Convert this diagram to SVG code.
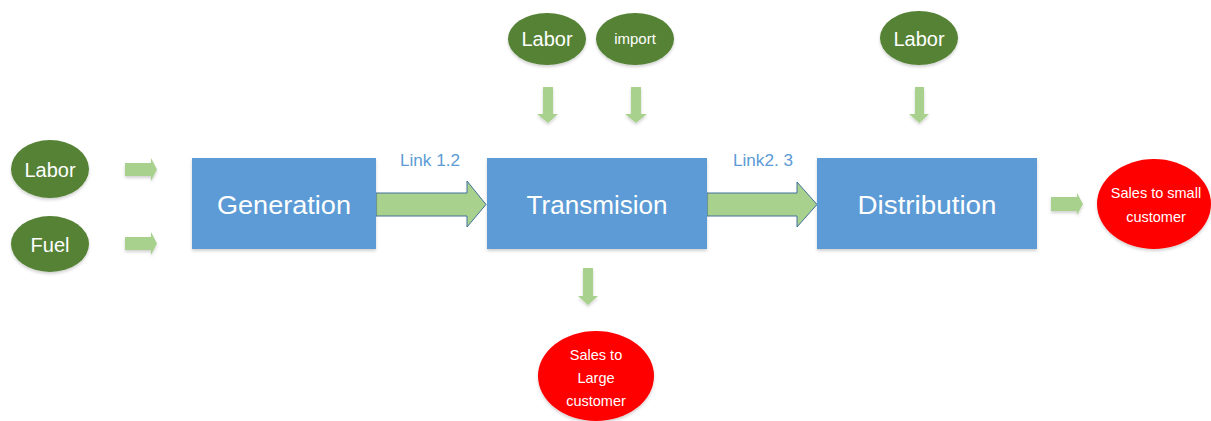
<svg xmlns="http://www.w3.org/2000/svg" width="1211" height="421" viewBox="0 0 1211 421">
<defs>
<filter id="sh" x="-20%" y="-20%" width="140%" height="150%">
<feDropShadow dx="0" dy="2" stdDeviation="1.5" flood-color="#000" flood-opacity="0.18"/>
</filter>
</defs>
<style>
.box{fill:#5b9bd5;filter:url(#sh)}
.in{fill:#548235;filter:url(#sh)}
.out{fill:#ff0000;filter:url(#sh)}
.big{fill:#a9d18e;stroke:#41719c;stroke-width:1}
.sm{fill:#a9d18e;filter:url(#sh)}
text{font-family:"Liberation Sans","Open Sans",sans-serif;fill:#fff;text-anchor:middle}
.bt{font-size:26px}
.et{font-size:20px}
.st{font-size:14.5px}
.lk{font-size:16.5px;fill:#5b9bd5}
</style>
<rect width="1211" height="421" fill="#fff"/>
<g id="connectors">
<path class="big" d="M376,193 H467 V181 L486,204.5 L467,227 V216 H376 Z"/>
<path class="big" d="M707,193 H797 V182 L817,204.5 L797,227 V216 H707 Z"/>
<path class="sm" d="M125,163 H151 V158 L157,169.5 L151,181 V176 H125 Z"/>
<path class="sm" d="M125,237 H151 V232 L157,243.5 L151,255 V250 H125 Z"/>
<path class="sm" d="M543,87 H553 V114 H558 L548,123 L537,114 H543 Z"/>
<path class="sm" d="M631,87 H641 V114 H647 L636,123 L625,114 H631 Z"/>
<path class="sm" d="M915,87 H924 V114 H929 L919.5,123 L909,114 H915 Z"/>
<path class="sm" d="M583,268 H593 V296 H598 L588,305 L578,296 H583 Z"/>
<path class="sm" d="M1051,197 H1077 V193 L1083,204 L1077,215 V211 H1051 Z"/>
<text class="lk" x="430" y="166" textLength="60" lengthAdjust="spacingAndGlyphs">Link 1.2</text>
<text class="lk" x="763" y="166" textLength="60" lengthAdjust="spacingAndGlyphs">Link2. 3</text>
</g>
<g id="generation"><rect class="box" x="192" y="158" width="184" height="91"/><text class="bt" x="284" y="214" textLength="134" lengthAdjust="spacingAndGlyphs">Generation</text></g>
<g id="transmision"><rect class="box" x="487" y="158" width="220" height="91"/><text class="bt" x="597" y="214" textLength="141" lengthAdjust="spacingAndGlyphs">Transmision</text></g>
<g id="distribution"><rect class="box" x="817" y="158" width="220" height="91"/><text class="bt" x="927" y="214" textLength="139" lengthAdjust="spacingAndGlyphs">Distribution</text></g>
<g id="labor-gen"><ellipse class="in" cx="50" cy="169" rx="39" ry="29"/><text class="et" x="50" y="177">Labor</text></g>
<g id="fuel"><ellipse class="in" cx="50" cy="244" rx="39" ry="28"/><text class="et" x="50" y="252">Fuel</text></g>
<g id="labor-trans"><ellipse class="in" cx="547" cy="39" rx="39" ry="26"/><text class="et" x="547" y="46">Labor</text></g>
<g id="import"><ellipse class="in" cx="635" cy="39" rx="39" ry="26"/><text x="635" y="44" style="font-size:15px">import</text></g>
<g id="labor-dist"><ellipse class="in" cx="919" cy="38" rx="39" ry="27"/><text class="et" x="919" y="46">Labor</text></g>
<g id="sales-small"><ellipse class="out" cx="1154" cy="204" rx="57" ry="45"/><text class="st" x="1156" y="198">Sales to small</text><text class="st" x="1156" y="222">customer</text></g>
<g id="sales-large"><ellipse class="out" cx="596" cy="376" rx="58" ry="45"/><text class="st" x="596" y="360">Sales to</text><text class="st" x="596" y="383">Large</text><text class="st" x="596" y="406">customer</text></g>
</svg>
